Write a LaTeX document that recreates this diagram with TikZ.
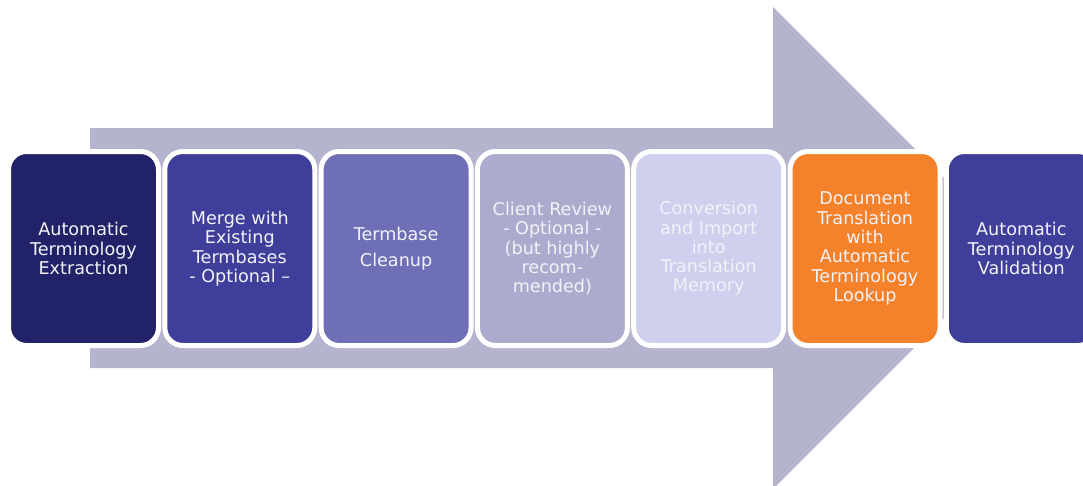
\documentclass[tikz,border=0pt]{standalone}
\usepackage{fontspec}
\setmainfont{DejaVu Sans}
\definecolor{arrowc}{RGB}{180,180,207}
\definecolor{cA}{RGB}{34,34,104}
\definecolor{cB}{RGB}{63,63,155}
\definecolor{cC}{RGB}{111,111,181}
\definecolor{cD}{RGB}{171,171,205}
\definecolor{cE}{RGB}{207,207,238}
\definecolor{cF}{RGB}{245,130,42}
\definecolor{txt}{RGB}{242,242,248}
\begin{document}
\begin{tikzpicture}[x=1pt,y=-1pt,
  stage/.style={draw=white, line width=5pt, rounded corners=18pt,
    minimum width=150pt, minimum height=194pt, align=center,
    text=txt, font=\fontsize{17.6}{19.3}\selectfont, inner sep=0pt}]
\useasboundingbox (0,0) rectangle (1083,485);
\clip (0,0) rectangle (1083,485);
% big background arrow
\fill[arrowc] (90,128) -- (773,128) -- (773,7) -- (1014,248) -- (773,489)
  -- (773,368) -- (90,368) -- cycle;
% stages
\node[stage, fill=cA] (s1) at (83.5,248.5) {Automatic\\Terminology\\Extraction};
\node[stage, fill=cB] (s2) at (239.8,248.5) {Merge with\\Existing\\Termbases\\- Optional –};
\node[stage, fill=cC] (s3) at (396.1,248.5) {Termbase\\[7pt]Cleanup};
\node[stage, fill=cD] (s4) at (552.4,248.5) {Client Review\\- Optional -\\(but highly\\recom-\\mended)};
\node[stage, fill=cE] (s5) at (708.7,248.5) {Conversion\\and Import\\into\\Translation\\Memory};
\node[stage, fill=cF] (s6) at (865,248.5) {Document\\Translation\\with\\Automatic\\Terminology\\Lookup};
\node[stage, fill=cB] (s7) at (1021.3,248.5) {Automatic\\Terminology\\Validation};
\end{tikzpicture}
\end{document}
